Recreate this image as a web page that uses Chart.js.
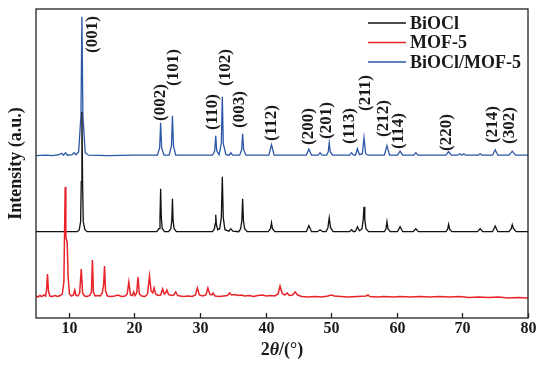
<!DOCTYPE html>
<html>
<head>
<meta charset="utf-8">
<script src="https://cdn.jsdelivr.net/npm/chart.js@4.4.0/dist/chart.umd.min.js"></script>
<style>
html, body { margin: 0; padding: 0; background: #fff; }
#wrap { width: 538px; height: 368px; }
</style>
</head>
<body>
<div id="wrap"><canvas id="xrdChart" width="538" height="368"></canvas></div>
<script>
// XRD patterns: [2theta, intensity above own baseline] (a.u.)
const bioclMof = [
  [5,0],[6.5,0.5],[7.5,0],[8.5,1],[8.9,2.5],[9.2,0.5],[9.5,3],[9.8,0.5],[10.5,1],[10.8,3],[11.1,1],
  [11.5,4],[11.85,40],[12.0,139],[12.15,40],[12.5,3],[13,0.5],[16,0],[20,0.5],
  [23.5,0.5],[23.85,8],[24.0,33],[24.15,8],[24.5,0.5],[25.3,0.5],[25.65,10],[25.8,40],[25.95,10],[26.3,0.5],
  [31.9,0.5],[32.25,5],[32.4,20],[32.55,5],[32.9,1],[33.25,12],[33.4,59],[33.55,12],[33.95,1],
  [34.45,0.5],[34.7,3],[34.95,0.5],[36.05,0.5],[36.35,6],[36.5,22],[36.65,6],[37,0.5],
  [40.5,0.5],[40.9,11],[41.3,0.5],[46.2,0.5],[46.6,6.5],[47.0,0.5],[48.0,0.5],[48.3,3],[48.6,0.5],
  [49.3,0.5],[49.55,4],[49.7,13],[49.85,4],[50.2,0.5],[52.8,0.5],[53.1,3],[53.4,0.5],[53.7,0.5],[54.0,7],[54.3,1],
  [54.75,2],[55.0,18],[55.25,2],[55.6,0.5],[58.1,0.5],[58.5,10],[58.9,0.5],[60.1,0.5],[60.5,4.5],[60.9,0.5],
  [62.6,0.5],[62.9,3],[63.2,0.5],[67.5,0.5],[67.9,4],[68.3,0.5],[69.3,0.5],[69.6,2],[69.9,0.5],[70.2,2],[70.5,0.5],
  [72.4,0.5],[72.7,2],[73.0,0.5],[74.6,0.5],[75.0,6],[75.4,0.5],[77.1,0.5],[77.6,4.5],[78.1,0.5],[80,0.5]
];

const biocl = [
  [5,0],[11.3,0],[11.6,2],[11.8,10],[11.9,50],[12.0,120],[12.1,50],[12.2,10],[12.45,2],[12.8,0],
  [23.4,0],[23.75,3],[23.9,14],[24.0,43],[24.1,14],[24.25,3],[24.6,0],
  [25.2,0],[25.55,3],[25.7,11],[25.8,33],[25.9,11],[26.05,3],[26.4,0],
  [31.9,0],[32.2,3],[32.32,8],[32.4,17],[32.5,7],[32.7,2],[33.0,3],[33.25,14],[33.4,55],[33.55,14],[33.8,2],
  [34.4,0.5],[34.7,3],[35.0,0.5],[35.9,0],[36.2,3],[36.38,11],[36.5,33],[36.62,11],[36.8,3],[37.2,0],
  [40.4,0],[40.75,3],[40.9,9],[41.05,3],[41.4,0],[46.2,0],[46.6,6],[47.0,0],[47.9,0],[48.3,2],[48.7,0],
  [49.2,0],[49.5,4],[49.7,14],[49.9,4],[50.3,0],[52.8,0],[53.1,2],[53.4,0],[53.7,0.5],[54.0,5],[54.3,1],
  [54.7,3],[54.88,12],[55.0,25],[55.12,12],[55.3,3],[55.7,0],[58.1,0],[58.35,3],[58.5,10],[58.65,3],[59.0,0],
  [60.1,0],[60.5,5],[60.9,0],[62.5,0],[62.9,3],[63.3,0],[67.5,0],[67.75,2.5],[67.9,7.4],[68.05,2.5],[68.4,0],
  [72.3,0],[72.7,3],[73.1,0],[74.6,0],[75.0,5.7],[75.4,0],[77.1,0],[77.45,3],[77.6,7],[77.8,3],[78.2,0],[80,0]
];

const mof5 = [
  [5,1],[5.3,0],[5.6,1.5],[5.9,0.5],[6.2,2],[6.45,1],[6.6,6],[6.75,23],[6.9,6],[7.1,1],[7.5,0.5],[7.9,1.5],
  [8.3,0.5],[8.7,1.5],[9.0,3],[9.25,15],[9.45,110],[9.55,60],[9.75,55],[9.9,20],[10.1,3],[10.4,1],[10.7,2],
  [10.9,7],[11.1,1.5],[11.4,1],[11.65,4],[11.9,28],[12.1,4],[12.4,1],[12.8,0.5],[13.2,1.5],[13.45,5],[13.6,37],
  [13.75,5],[14.0,1],[14.4,1.5],[14.8,1],[15.1,4],[15.3,12],[15.45,31],[15.6,6],[15.9,1],[16.4,0.5],[17.0,1],
  [17.5,2],[18.0,0.5],[18.6,1],[18.9,3],[19.15,15],[19.4,2],[19.7,1.5],[19.9,5],[20.1,1.5],[20.35,4],[20.55,20],
  [20.75,3],[21.1,1],[21.6,0.5],[22.0,3],[22.3,21],[22.55,6],[22.8,4],[23.0,9],[23.25,3],[23.6,1.5],[24.0,2],
  [24.3,8],[24.55,3],[24.75,4],[24.95,7],[25.2,2.5],[25.6,1.5],[26.0,2],[26.3,5],[26.6,1.5],[27.0,1],[27.5,0.5],
  [28.2,1],[28.8,0.5],[29.3,2],[29.6,9],[29.9,2],[30.4,1],[30.9,2],[31.2,9],[31.5,2.5],[31.8,2],[32.0,4],[32.3,1],
  [32.9,0.5],[33.6,1],[34.2,1.5],[34.5,4],[34.8,2],[35.3,2.5],[35.8,1.5],[36.3,2],[36.8,1],[37.5,1.5],[38.2,0.5],
  [38.8,1.5],[39.5,2],[40.1,1],[40.8,1.5],[41.4,1],[41.9,3],[42.2,11],[42.5,4],[42.9,2],[43.3,4],[43.6,1.5],
  [44.1,2],[44.5,5],[44.9,2],[45.5,0.5],[46.5,0],[47.5,0.5],[48.5,0],[49.5,1],[50.0,2],[50.5,1],[51.5,0.5],
  [52.5,0],[54,0.5],[55.3,1],[55.6,2],[55.9,0.5],[57,0],[58,0.5],[59.5,0],[60.5,0.5],[62,0],[63.5,0.5],[65,0],
  [66.5,0.5],[68,0],[69.5,0.5],[71,-0.5],[72.5,0],[74,-0.5],[75.5,0],[77,-1],[78.5,-0.5],[80,-1]
];

// Miller indices and the 2theta / height where each label sits
const hklText = ['(001)','(002)','(101)','(110)','(102)','(003)','(112)','(200)','(201)','(113)','(211)','(212)','(114)','(220)','(214)','(302)'];
const hklPos  = [13.66, 23.95, 26.0, 31.87, 33.86, 36.07, 40.87, 46.5, 49.33, 52.84, 55.2, 57.94, 60.3, 67.6, 74.56, 77.23];
const hklLift = [265, 197, 232, 188, 232, 190, 177, 173, 179, 174, 207, 181, 169, 167, 175, 174];

const xTicks = [10, 20, 30, 40, 50, 60, 70, 80];

// vertical stacking of the three patterns
const OFFSET_RED = 21, OFFSET_BLACK = 86.3, OFFSET_BLUE = 162.3;
const shift = (arr, off) => arr.map(p => ({ x: p[0], y: p[1] + off }));

const SERIF = '"Liberation Serif", "Times New Roman", serif';

const decor = {
    id: 'decor',
    afterDraw(chart) {
        const { ctx, chartArea: a, scales: { x, y } } = chart;
        ctx.save();
        // frame
        ctx.strokeStyle = '#222';
        ctx.lineWidth = 1.3;
        ctx.strokeRect(a.left, a.top, a.right - a.left, a.bottom - a.top);
        // inward ticks + tick labels
        ctx.fillStyle = '#1a1a1a';
        ctx.font = 'bold 16px ' + SERIF;
        ctx.textAlign = 'center';
        ctx.textBaseline = 'middle';
        xTicks.forEach(v => {
            const px = Math.round(x.getPixelForValue(v)) + 0.5;
            ctx.beginPath();
            ctx.moveTo(px, a.bottom);
            ctx.lineTo(px, a.bottom - 5);
            ctx.stroke();
            ctx.fillText(String(v), px, a.bottom + 11);
        });
        // hkl labels
        ctx.font = 'bold 17px ' + SERIF;
        ctx.textAlign = 'left';
        hklText.forEach((s, i) => {
            ctx.save();
            ctx.translate(x.getPixelForValue(hklPos[i]), y.getPixelForValue(hklLift[i]));
            ctx.rotate(-Math.PI / 2);
            ctx.fillText(s, 0, 0);
            ctx.restore();
        });
        // legend
        ctx.font = 'bold 18px ' + SERIF;
        [0, 1, 2].forEach((di, r) => {
            const ds = chart.data.datasets[di];
            const ly = a.top + 14 + r * 19.5;
            ctx.strokeStyle = ds.borderColor;
            ctx.lineWidth = 1.3;
            ctx.beginPath();
            ctx.moveTo(a.right - 160, ly);
            ctx.lineTo(a.right - 122, ly);
            ctx.stroke();
            ctx.fillStyle = '#1a1a1a';
            ctx.fillText(ds.label, a.right - 118, ly + 1);
        });
        // y title
        ctx.save();
        ctx.translate(16, (a.top + a.bottom) / 2);
        ctx.rotate(-Math.PI / 2);
        ctx.textAlign = 'center';
        ctx.fillText('Intensity (a.u.)', 0, 0);
        ctx.restore();
        // x title: 2θ/(°)
        const parts = [['2', 'bold 18px '], ['θ', 'italic bold 18px '], ['/(°)', 'bold 18px ']];
        let total = 0;
        parts.forEach(p => { ctx.font = p[1] + SERIF; total += ctx.measureText(p[0]).width; });
        let tx = (a.left + a.right) / 2 - total / 2;
        ctx.textAlign = 'left';
        parts.forEach(p => { ctx.font = p[1] + SERIF; ctx.fillText(p[0], tx, 350); tx += ctx.measureText(p[0]).width; });
        ctx.restore();
    }
};

new Chart(document.getElementById('xrdChart').getContext('2d'), {
    type: 'line',
    data: {
        datasets: [
            { label: 'BiOCl', data: shift(biocl, OFFSET_BLACK), borderColor: '#111111', order: 1 },
            { label: 'MOF-5', data: shift(mof5, OFFSET_RED), borderColor: '#e8242a', borderWidth: 1.5, order: 0 },
            { label: 'BiOCl/MOF-5', data: shift(bioclMof, OFFSET_BLUE), borderColor: '#2b57a6', order: 2 }
        ]
    },
    options: {
        responsive: false,
        animation: false,
        devicePixelRatio: 1,
        layout: { padding: { left: 36, right: 10, top: 9, bottom: 0 } },
        elements: { point: { radius: 0 }, line: { tension: 0, borderWidth: 1.3, fill: false } },
        plugins: { legend: { display: false }, tooltip: { enabled: false } },
        scales: {
            x: {
                type: 'linear', min: 5, max: 80,
                afterBuildTicks: s => { s.ticks = xTicks.map(v => ({ value: v })); },
                afterFit: s => { s.height = 50; },
                grid: { display: false },
                border: { display: false },
                ticks: { display: false }
            },
            y: { display: false, min: 0, max: 309 }
        }
    },
    plugins: [decor]
});
</script>
</body>
</html>
